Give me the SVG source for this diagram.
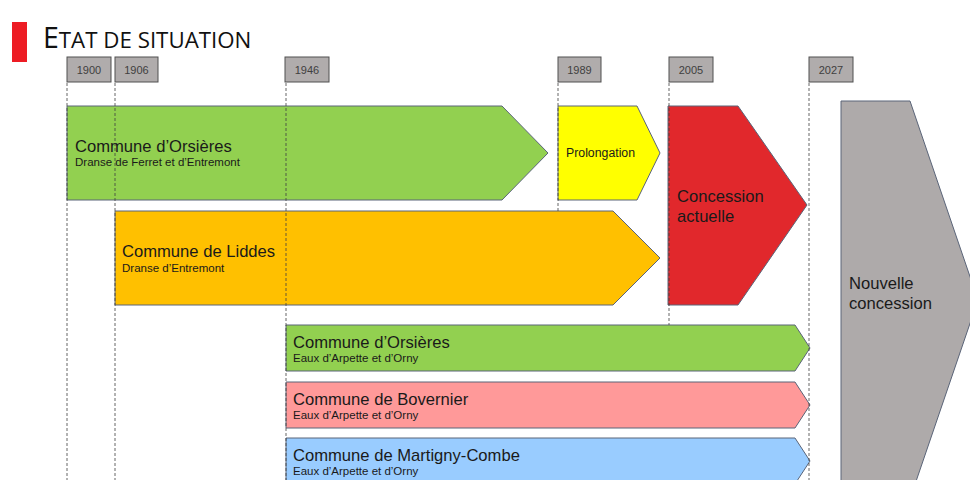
<svg xmlns="http://www.w3.org/2000/svg" width="970" height="480" viewBox="0 0 970 480">
<style>
.yr{fill:#b0acac;stroke:#505050;stroke-width:1}
.yt{font-family:"Liberation Sans",Arial,sans-serif;font-size:11px;fill:#404040;text-anchor:middle}
.ar{stroke:#5a6478;stroke-width:1}
.t1{font-family:"Liberation Sans",Arial,sans-serif;font-size:16.6px;fill:#1a1a1a}
.t2{font-family:"Liberation Sans",Arial,sans-serif;font-size:11.5px;fill:#1a1a1a}
.dl{stroke:#404040;stroke-width:0.8;stroke-dasharray:3,2;fill:none}
</style>
<rect x="0" y="0" width="970" height="480" fill="#ffffff"/>
<g id="title">
<rect x="12" y="22" width="15" height="40" fill="#ed1c24"/>
<text x="43" y="48" font-family="'Open Sans',sans-serif" fill="#111"><tspan font-size="28.5">E</tspan><tspan font-size="22.3">TAT DE SITUATION</tspan></text>
</g>
<g id="years">
<g id="y1900"><rect class="yr" x="67" y="57" width="44" height="25"/><text class="yt" x="89" y="73.5">1900</text></g>
<g id="y1906"><rect class="yr" x="115" y="57" width="43" height="25"/><text class="yt" x="136.5" y="73.5">1906</text></g>
<g id="y1946"><rect class="yr" x="285" y="57" width="44" height="25"/><text class="yt" x="307" y="73.5">1946</text></g>
<g id="y1989"><rect class="yr" x="558" y="57" width="43" height="25"/><text class="yt" x="579.5" y="73.5">1989</text></g>
<g id="y2005"><rect class="yr" x="669" y="57" width="44" height="25"/><text class="yt" x="691" y="73.5">2005</text></g>
<g id="y2027"><rect class="yr" x="809" y="57" width="44" height="25"/><text class="yt" x="831" y="73.5">2027</text></g>
</g>
<g id="orsieres1"><polygon class="ar" fill="#92d050" points="67,106 502,106 548,153 502,200 67,200"/>
<text class="t1" x="75" y="152">Commune d’Orsières</text><text class="t2" x="75" y="166">Dranse de Ferret et d’Entremont</text></g>
<g id="prolongation"><polygon class="ar" fill="#ffff00" points="558,106 637,106 660,153 637,200 558,200"/>
<text x="566" y="157" font-family="'Liberation Sans',Arial,sans-serif" font-size="12.3px" fill="#1a1a1a">Prolongation</text></g>
<g id="liddes"><polygon class="ar" fill="#ffc000" points="115,211 613,211 660,258 613,305 115,305"/>
<text class="t1" x="122" y="257">Commune de Liddes</text><text class="t2" x="122" y="272">Dranse d’Entremont</text></g>
<g id="concession"><polygon class="ar" fill="#e1282c" points="668,106 738,106 807,205 738,305 668,305"/>
<text class="t1" x="677" y="202">Concession</text><text class="t1" x="677" y="222">actuelle</text></g>
<g id="nouvelle"><polygon class="ar" fill="#aeaaaa" points="841,101 910,101 978,300 910,499 841,499"/>
<text class="t1" x="849" y="289">Nouvelle</text><text class="t1" x="849" y="309">concession</text></g>
<g id="orsieres2"><polygon class="ar" fill="#92d050" points="286,325 795,325 810,348 795,371 286,371"/>
<text class="t1" x="293" y="348">Commune d’Orsières</text><text class="t2" x="293" y="362">Eaux d’Arpette et d’Orny</text></g>
<g id="bovernier"><polygon class="ar" fill="#ff9999" points="286,382 795,382 810,405 795,428 286,428"/>
<text class="t1" x="293" y="405">Commune de Bovernier</text><text class="t2" x="293" y="419">Eaux d’Arpette et d’Orny</text></g>
<g id="martigny"><polygon class="ar" fill="#99ccff" points="286,438 795,438 810,461 795,484 286,484"/>
<text class="t1" x="293" y="461">Commune de Martigny-Combe</text><text class="t2" x="293" y="475">Eaux d’Arpette et d’Orny</text></g>
<g id="connectors">
<line class="dl" x1="67" y1="83" x2="67" y2="480"/>
<line class="dl" x1="115" y1="83" x2="115" y2="480"/>
<line class="dl" x1="286" y1="83" x2="286" y2="480"/>
<line class="dl" x1="558" y1="83" x2="558" y2="211"/>
<line class="dl" x1="669" y1="83" x2="669" y2="325"/>
<line class="dl" x1="809" y1="83" x2="809" y2="480"/>
</g>
</svg>
